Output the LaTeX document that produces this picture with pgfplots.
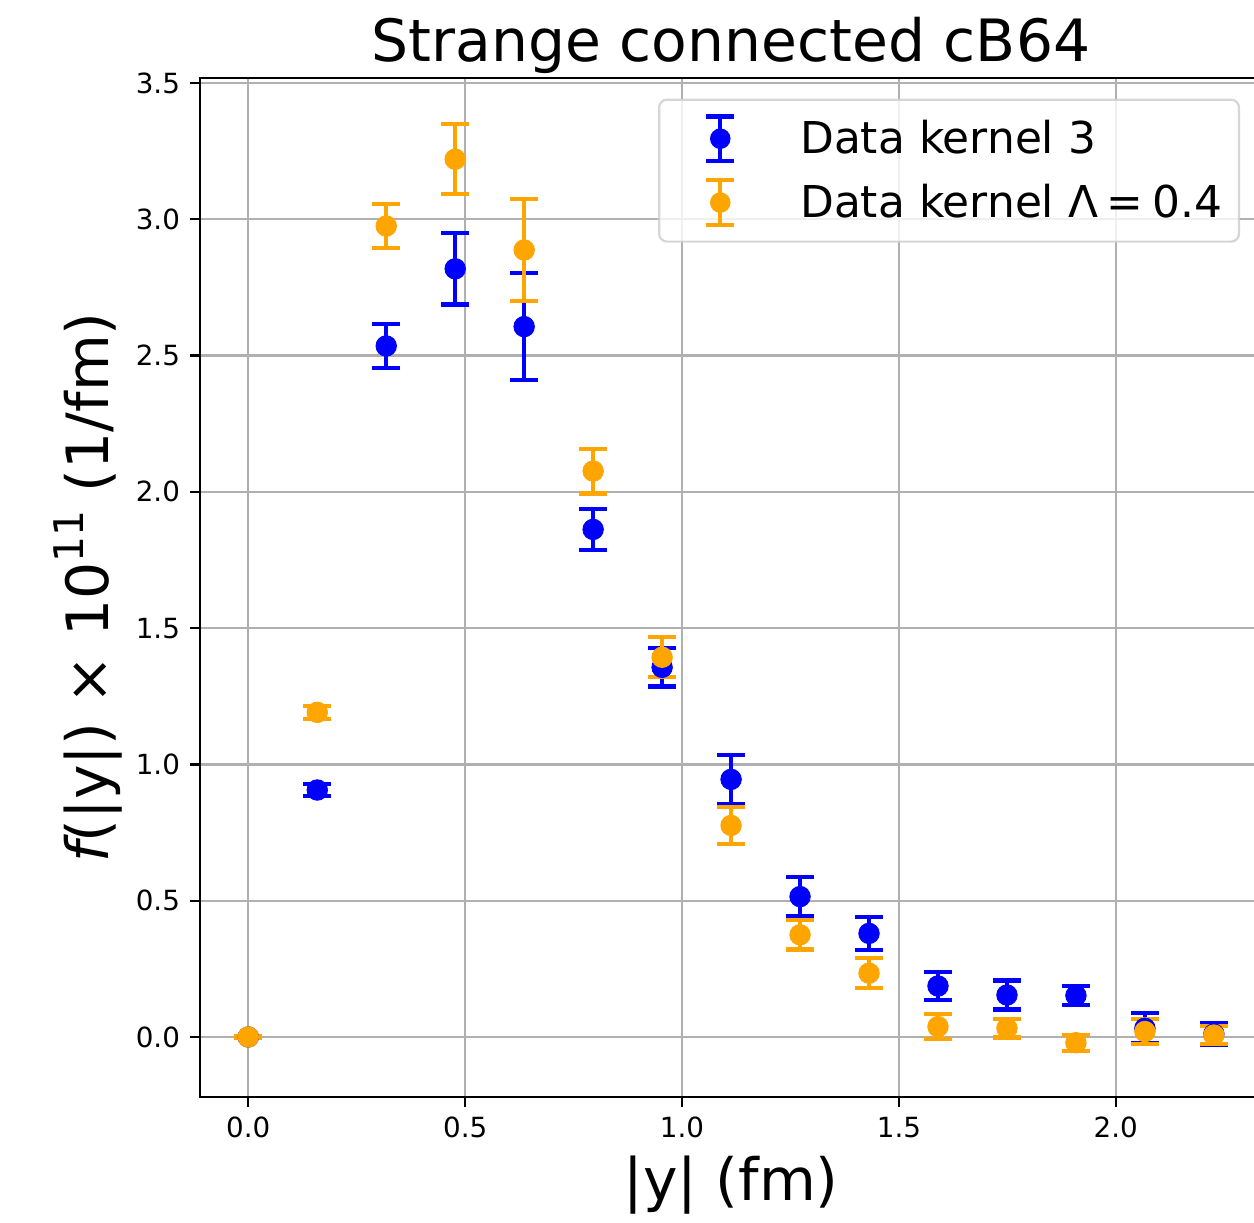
\documentclass[border=0pt]{standalone}
\usepackage{fontspec}
\setmainfont{DejaVu Sans}[ItalicFont={DejaVu Sans Oblique}]
\usepackage{pgfplots}
\pgfplotsset{compat=1.18}
\usepackage{pgfplotstable}
\usetikzlibrary{calc}
\definecolor{mplblue}{RGB}{0,0,255}
\definecolor{mplorange}{RGB}{255,165,0}
\definecolor{gridgray}{RGB}{176,176,176}
\definecolor{legedge}{RGB}{204,204,204}

\pgfplotstableread{
x y e
0.000 0.000 0.000
0.159 0.906 0.021
0.318 2.535 0.080
0.477 2.818 0.131
0.636 2.606 0.196
0.795 1.862 0.076
0.954 1.356 0.070
1.113 0.945 0.090
1.272 0.515 0.073
1.431 0.380 0.061
1.590 0.187 0.051
1.749 0.154 0.053
1.908 0.152 0.035
2.067 0.032 0.055
2.226 0.011 0.040
}\kernthree

\pgfplotstableread{
x y e
0.000 0.000 0.002
0.159 1.191 0.024
0.318 2.975 0.081
0.477 3.220 0.128
0.636 2.887 0.188
0.795 2.076 0.082
0.954 1.393 0.073
1.113 0.776 0.068
1.272 0.375 0.054
1.431 0.234 0.055
1.590 0.038 0.046
1.749 0.032 0.034
1.908 -0.021 0.029
2.067 0.020 0.046
2.226 0.007 0.034
}\kernlam

\pgfplotsset{
  ebimage/.style={
    legend image code/.code={
      \draw[line width=1.5pt, draw opacity=1] (16pt,-8pt) -- (16pt,8pt);
      \draw[line width=1.5pt, draw opacity=1] (11pt,-8pt) -- (21pt,-8pt) (11pt,8pt) -- (21pt,8pt);
      \fill[fill opacity=1, draw=none] (16pt,0pt) circle (3.7pt);
      \path[draw=none, fill=none] (0pt,0pt) rectangle (32pt,0.1pt);
    }
  }
}

\begin{document}
\begin{tikzpicture}
\begin{axis}[
  scale only axis,
  width=382.3pt, height=366.8pt,
  xmin=-0.1113, xmax=2.337,
  ymin=-0.22, ymax=3.518,
  xtick={0,0.5,1,1.5,2},
  ytick={0,0.5,1,1.5,2,2.5,3,3.5},
  xtick pos=bottom, ytick pos=left,
  tick align=outside,
  major tick length=3.5pt,
  tick style={line width=0.8pt, black},
  axis line style={line width=0.8pt, black},
  grid=major,
  major grid style={line width=0.8pt, gridgray},
  /pgf/number format/.cd, fixed, fixed zerofill, precision=1, assume math mode=true,
  /pgfplots/.cd,
  tick label style={font=\fontsize{10}{12}\selectfont},
  xticklabel style={inner sep=0pt, anchor=north, yshift=-3.5pt},
  yticklabel style={inner sep=0pt, anchor=east, xshift=-3.5pt},
  title={Strange connected cB64},
  title style={font=\fontsize{21}{25}\selectfont, at={(axis description cs:0.5,1)}, anchor=base},
  xlabel={|y| (fm)},
  xlabel style={font=\fontsize{21}{25}\selectfont, at={(axis description cs:0.5,-0.102)}, anchor=base},
  ylabel={{\itshape f}(|y|) × 10\raisebox{0.42em}{\fontsize{14.7}{16}\selectfont 11} (1/fm)},
  ylabel style={font=\fontsize{21}{25}\selectfont, at={(axis description cs:-0.0866,0.5)}, anchor=base},
  legend cell align=left,
  legend style={
    at={(rel axis cs:1,1)}, anchor=north east, xshift=-7.9pt, yshift=-7.4pt,
    draw=legedge, line width=0.8pt, rounded corners=2.8pt,
    fill=white, fill opacity=0.8, draw opacity=0.8, text opacity=1,
    font=\fontsize{15.8}{19}\selectfont,
    inner xsep=6.0pt, inner ysep=5.3pt,
    row sep=5.5pt, column sep=12.8pt,
    nodes={inner sep=0pt},
  },
]
\addplot[only marks, color=mplblue, mark=*, mark size=3.7pt,
  mark options={solid, fill=mplblue, draw=mplblue, line width=0.3pt},
  error bars/.cd, y dir=both, y explicit,
  error bar style={line width=1.5pt, mplblue},
  error mark options={rotate=90, line width=1.5pt, mark size=5pt, mplblue},
  /pgfplots/.cd, ebimage]
  table[x=x, y=y, y error=e] {\kernthree};
\addlegendentry{Data kernel 3}

\addplot[only marks, color=mplorange, mark=*, mark size=3.7pt,
  mark options={solid, fill=mplorange, draw=mplorange, line width=0.3pt},
  error bars/.cd, y dir=both, y explicit,
  error bar style={line width=1.5pt, mplorange},
  error mark options={rotate=90, line width=1.5pt, mark size=5pt, mplorange},
  /pgfplots/.cd, ebimage]
  table[x=x, y=y, y error=e] {\kernlam};
\addlegendentry{Data kernel Λ\hspace{0.2em}=\hspace{0.2em}0.4}

\coordinate (bl) at (rel axis cs:0,0);
\coordinate (tr) at (rel axis cs:1,1);
\end{axis}
\pgfresetboundingbox
\path[use as bounding box] ($(bl)+(-72pt,-45.36pt)$) rectangle ($(tr)+(-2.88pt,28.08pt)$);
\end{tikzpicture}
\end{document}
